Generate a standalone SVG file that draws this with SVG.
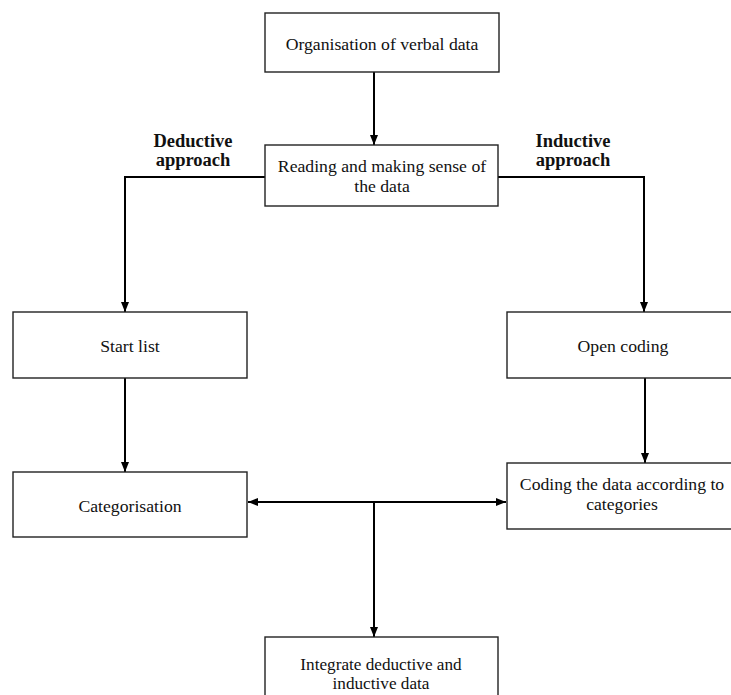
<svg xmlns="http://www.w3.org/2000/svg" width="731" height="695" viewBox="0 0 731 695">
  <style>
    .box { fill: #ffffff; stroke: #222222; stroke-width: 1.4; }
    .lbl { font-family: "Liberation Serif", Tinos, "Times New Roman", Times, serif; font-size: 17.7px; fill: #111111; text-anchor: middle; }
    .side { font-family: "Liberation Serif", Tinos, "Times New Roman", Times, serif; font-size: 18.5px; font-weight: bold; fill: #111111; text-anchor: middle; }
    .conn { fill: none; stroke: #000000; stroke-width: 2; }
  </style>
  <defs>
    <marker id="arrow" markerUnits="userSpaceOnUse" markerWidth="10" markerHeight="10" viewBox="0 0 10 10" refX="10" refY="5" orient="auto-start-reverse">
      <path d="M0,1 L10,5 L0,9 Z" fill="#000000"/>
    </marker>
  </defs>

  <rect width="731" height="695" fill="#ffffff"/>

  <!-- connectors -->
  <g id="connectors">
    <line class="conn" x1="374" y1="72" x2="374" y2="145" marker-end="url(#arrow)"/>
    <polyline class="conn" points="265,177 125,177 125,312" marker-end="url(#arrow)"/>
    <polyline class="conn" points="498,177 644,177 644,312" marker-end="url(#arrow)"/>
    <line class="conn" x1="125" y1="378" x2="125" y2="472" marker-end="url(#arrow)"/>
    <line class="conn" x1="645" y1="378" x2="645" y2="463" marker-end="url(#arrow)"/>
    <line class="conn" x1="248" y1="502" x2="506" y2="502" marker-start="url(#arrow)" marker-end="url(#arrow)"/>
    <line class="conn" x1="374" y1="502" x2="374" y2="637" marker-end="url(#arrow)"/>
  </g>

  <!-- approach labels -->
  <g id="deductive-label">
    <text class="side" x="193" y="147">Deductive</text>
    <text class="side" x="193" y="166">approach</text>
  </g>
  <g id="inductive-label">
    <text class="side" x="573" y="147">Inductive</text>
    <text class="side" x="573" y="166">approach</text>
  </g>

  <!-- nodes -->
  <g id="organisation">
    <rect class="box" x="265" y="13" width="234" height="59"/>
    <text class="lbl" x="382" y="50">Organisation of verbal data</text>
  </g>
  <g id="reading">
    <rect class="box" x="265" y="145" width="233" height="61"/>
    <text class="lbl" x="382" y="172">Reading and making sense of</text>
    <text class="lbl" x="382" y="192">the data</text>
  </g>
  <g id="start-list">
    <rect class="box" x="13" y="312" width="234" height="66"/>
    <text class="lbl" x="130" y="352">Start list</text>
  </g>
  <g id="open-coding">
    <rect class="box" x="507" y="312" width="235" height="66"/>
    <text class="lbl" x="623" y="352">Open coding</text>
  </g>
  <g id="categorisation">
    <rect class="box" x="13" y="472" width="234" height="65"/>
    <text class="lbl" x="130" y="512">Categorisation</text>
  </g>
  <g id="coding-categories">
    <rect class="box" x="507" y="463" width="235" height="66"/>
    <text class="lbl" x="622" y="490">Coding the data according to</text>
    <text class="lbl" x="622" y="510">categories</text>
  </g>
  <g id="integrate">
    <rect class="box" x="265" y="637" width="233" height="70"/>
    <text class="lbl" x="381" y="670" style="font-size:17.2px">Integrate deductive and</text>
    <text class="lbl" x="381" y="689" style="font-size:17.2px">inductive data</text>
  </g>
</svg>
